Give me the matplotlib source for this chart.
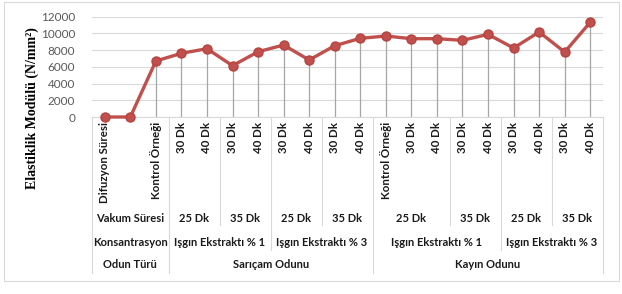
import matplotlib.pyplot as plt
from matplotlib.transforms import blended_transform_factory
from matplotlib.patches import Rectangle
from matplotlib.lines import Line2D

# veri
row1_labels = ["Difuzyon Süresi", "", "Kontrol Örneği",
               "30 Dk", "40 Dk", "30 Dk", "40 Dk", "30 Dk", "40 Dk", "30 Dk", "40 Dk",
               "Kontrol Örneği",
               "30 Dk", "40 Dk", "30 Dk", "40 Dk", "30 Dk", "40 Dk", "30 Dk", "40 Dk"]
values = [0, 0, 6700, 7620, 8170, 6140, 7810, 8610, 6820, 8530, 9410,
          9690, 9370, 9370, 9170, 9890, 8250, 10170, 7770, 11330]

vakum = [("Vakum Süresi", 3), ("25 Dk", 2), ("35 Dk", 2), ("25 Dk", 2), ("35 Dk", 2),
         ("25 Dk", 3), ("35 Dk", 2), ("25 Dk", 2), ("35 Dk", 2)]
konsantrasyon = [("Konsantrasyon", 3), ("Işgın Ekstraktı % 1", 4), ("Işgın Ekstraktı % 3", 4),
                 ("Işgın Ekstraktı % 1", 5), ("Işgın Ekstraktı % 3", 4)]
odun = [("Odun Türü", 3), ("Sarıçam Odunu", 8), ("Kayın Odunu", 9)]

yticks = [0, 2000, 4000, 6000, 8000, 10000, 12000]

W, H = 622, 294
fig = plt.figure(figsize=(W / 100, H / 100), dpi=100)
ax = fig.add_axes([92 / W, 1 - 117 / H, (603 - 92) / W, (117 - 16.7) / H])

x = list(range(len(values)))
ax.vlines(x, 0, values, color='#A6A6A6', lw=0.9, zorder=1)
ax.plot(x, values, color='#C0504D', lw=2.4, marker='o', ms=6.5,
        mfc='#C0504D', mec='#B8423E', zorder=3, clip_on=False)

ax.set_xlim(-0.5, len(values) - 0.5)
ax.set_ylim(0, 12000)
ax.set_yticks(yticks)
ax.set_yticklabels([str(v) for v in yticks], fontsize=8.5, color='#595959', family='Lato')
ax.set_xticks([])
ax.tick_params(axis='y', length=0, pad=12)
ax.grid(axis='y', color='#D9D9D9', lw=0.8)
ax.set_axisbelow(True)
for s in ['top', 'right', 'left']:
    ax.spines[s].set_visible(False)
ax.spines['bottom'].set_color('#D9D9D9')
ax.spines['bottom'].set_linewidth(0.8)

# kategori etiketleri
tr = blended_transform_factory(ax.transData, fig.transFigure)
def fy(py):
    return 1 - py / H

for i, lab in enumerate(row1_labels):
    ax.text(i, fy(122), lab, transform=tr, rotation=90, ha='center', va='top',
            fontsize=8.3, fontweight='bold', family='Lato', color='#1a1a1a')

def draw_row(groups, py):
    start = 0
    bounds = []
    for lab, n in groups:
        ax.text(start + (n - 1) / 2, fy(py), lab, transform=tr, ha='center', va='center',
                fontsize=8, fontweight='bold', family='Lato', color='#1a1a1a')
        start += n
        bounds.append(start - 0.5)
    return bounds

b2 = draw_row(vakum, 218)
b3 = draw_row(konsantrasyon, 242)
b4 = draw_row(odun, 265)

def sep(xb, bottom):
    ax.add_line(Line2D([xb, xb], [fy(117), fy(bottom)], transform=tr,
                       color='#D9D9D9', lw=0.8, clip_on=False))

sep(-0.5, 273)
for xb in b4:
    sep(xb, 273)
for xb in b3:
    if xb not in b4:
        sep(xb, 250)
for xb in b2:
    if xb not in b3 and xb not in b4:
        sep(xb, 225)

fig.text(32 / W, fy(108), "Elastiklik Modülü (N/mm²)", rotation=90, ha='center', va='center',
         fontsize=10, fontweight='bold', family='Liberation Serif')

fig.patches.append(Rectangle((4 / W, fy(281)), (619 - 4) / W, (281 - 2) / H,
                             transform=fig.transFigure, fill=False,
                             edgecolor='#D9D9D9', lw=0.8))

fig.savefig('out.png', dpi=100)
